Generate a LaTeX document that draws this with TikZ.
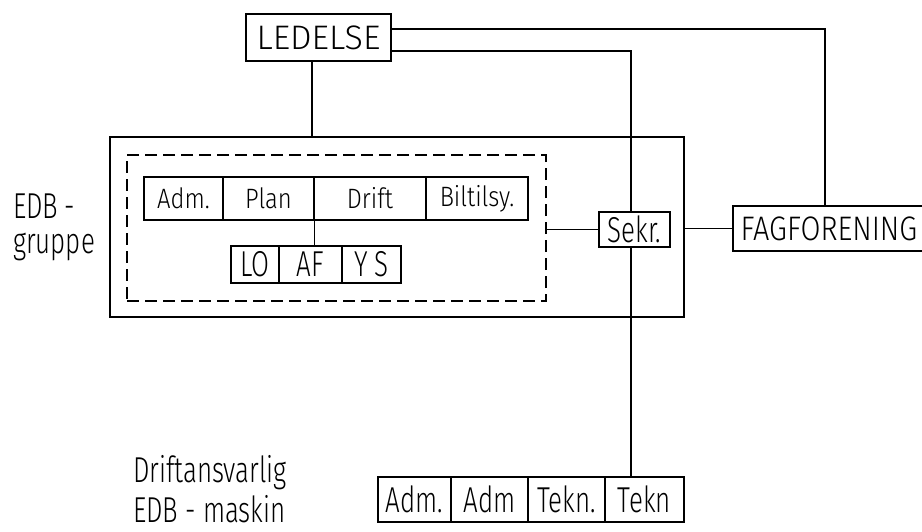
\documentclass[tikz,border=0pt]{standalone}
\usepackage{fontspec}
\setmainfont{Fira Sans}[UprightFont=* Light, FakeStretch=0.72]
\newfontfamily\widefont{Fira Sans}[UprightFont=* Light]
\newfontfamily\midfont{Fira Sans}[UprightFont=* Light, FakeStretch=0.85]
\begin{document}
\begin{tikzpicture}[x=1pt,y=-1pt,
  big/.style={font=\fontsize{36}{36}\selectfont},
  small/.style={font=\midfont\fontsize{28}{28}\selectfont},
  box/.style={draw, line width=1.8pt, inner sep=0pt},
  cell/.style={draw, line width=1.1pt, inner sep=0pt},
  wire/.style={line width=1.8pt},
  dashbox/.style={draw, line width=2pt, dash pattern=on 12pt off 6pt},
  lbl/.style={inner sep=0pt, big, anchor=base west}]
\useasboundingbox (0,0) rectangle (922,531);
% main boxes
\node[box, font=\widefont\fontsize{34}{34}\selectfont, minimum width=145pt, minimum height=47pt] (led) at (318.5,37.5) {LEDELSE};
\node[box, font=\midfont\fontsize{34}{34}\selectfont, minimum width=192pt, minimum height=45pt] (fag) at (829,228.5) {FAGFORENING};
\node[cell, big, minimum width=71pt, minimum height=35pt] (sekr) at (634.5,229.5) {Sekr.};
\node[draw, line width=2.4pt, minimum width=574pt, minimum height=180pt, inner sep=0pt] (outer) at (397,227) {};
\node[dashbox, minimum width=419pt, minimum height=146pt, inner sep=0pt] (dash) at (336.5,228) {};
% top row
\node[cell, small, minimum width=79pt, minimum height=43pt] (adm) at (183.5,198.5) {Adm.};
\node[cell, small, minimum width=91pt, minimum height=43pt] (plan) at (268.5,198.5) {Plan};
\node[cell, small, minimum width=112pt, minimum height=43pt] (drift) at (370,198.5) {Drift};
\node[cell, small, minimum width=102pt, minimum height=43pt] (bil) at (477,198.5) {Biltilsy.};
% LO row
\node[cell, big, minimum width=48pt, minimum height=37pt] (lo) at (255,264.5) {LO};
\node[cell, big, minimum width=63pt, minimum height=37pt] (af) at (310.5,264.5) {AF};
\node[cell, big, minimum width=59pt, minimum height=37pt] (ys) at (371.5,264.5) {Y S};
% bottom row
\node[cell, big, line width=1.6pt, minimum width=73pt, minimum height=45pt] (b1) at (414.5,499.5) {Adm.};
\node[cell, big, line width=1.6pt, minimum width=77pt, minimum height=45pt] (b2) at (489.5,499.5) {Adm};
\node[cell, big, line width=1.6pt, minimum width=77pt, minimum height=45pt] (b3) at (566.5,499.5) {Tekn.};
\node[cell, big, line width=1.6pt, minimum width=79pt, minimum height=45pt] (b4) at (644.5,499.5) {Tekn};
% labels
\node[lbl] (t1) at (13,218) {EDB\,-};
\node[lbl] (t2) at (13,253) {gruppe};
\node[lbl] (t3) at (133,482) {Driftansvarlig};
\node[lbl] (t4) at (133,522) {EDB - maskin};
% connectors
\coordinate (u) at (825,29);
\coordinate (v) at (631,51);
\coordinate (w) at (312,0);
\draw[wire] (u -| led.east) -- (u) -- (u |- fag.north);
\draw[wire] (v -| led.east) -- (v) -- (v |- sekr.north);
\draw[wire] (v |- sekr.south) -- (v |- b4.north);
\draw[wire] (w |- led.south) -- (w |- outer.north);
\draw[wire] (dash.east |- sekr.west) -- (sekr.west);
\draw[wire] (outer.east |- fag.west) -- (fag.west);
\draw[wire, line width=1.4pt] (plan.south east) -- (plan.south east |- af.north);
\end{tikzpicture}
\end{document}
